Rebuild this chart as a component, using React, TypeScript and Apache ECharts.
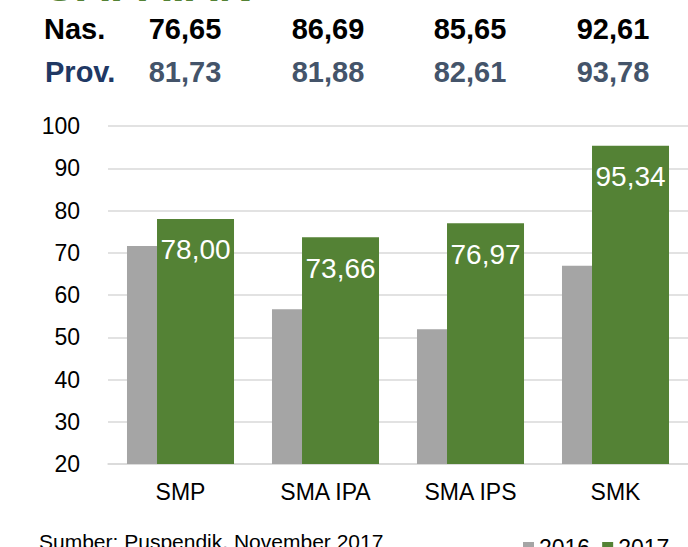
import React, { useEffect, useRef } from "react";
import * as echarts from "echarts";

const categories = ["SMP", "SMA IPA", "SMA IPS", "SMK"];
const values2016 = [71.6, 56.6, 51.9, 66.9];
const values2017 = [78.0, 73.66, 76.97, 95.34];
const nasValues = ["76,65", "86,69", "85,65", "92,61"];
const provValues = ["81,73", "81,88", "82,61", "93,78"];
const yTicks = [20, 30, 40, 50, 60, 70, 80, 90, 100];
const seriesNames = ["2016", "2017"];
const titleText = "CAPAIAN";
const sourceText = "Sumber: Puspendik, November 2017";

const FONT = "'Liberation Sans', Arial, Helvetica, sans-serif";
const tableX = [185, 328, 470, 613];

export default function App() {
  const ref = useRef<HTMLDivElement>(null);
  useEffect(() => {
    if (!ref.current) return;
    const chart = echarts.init(ref.current, undefined, { renderer: "svg" });
    const fmt = (v: number) => v.toFixed(2).replace(".", ",");
    const graphics: any[] = [
      {
        type: "text",
        x: 42,
        y: -16,
        style: {
          text: titleText,
          fill: "#548235",
          font: `bold 47px ${FONT}`,
          verticalAlign: "middle",
        },
      },
      {
        type: "text",
        x: 44,
        y: 29,
        style: { text: "Nas.", fill: "#000000", font: `bold 29px ${FONT}`, verticalAlign: "middle" },
      },
      {
        type: "text",
        x: 45,
        y: 72,
        style: { text: "Prov.", fill: "#203864", font: `bold 29px ${FONT}`, verticalAlign: "middle" },
      },
      {
        type: "text",
        x: 39,
        y: 541,
        style: { text: sourceText, fill: "#000000", font: `21px ${FONT}`, verticalAlign: "middle" },
      },
    ];
    nasValues.forEach((v, i) => {
      graphics.push({
        type: "text",
        x: tableX[i],
        y: 29,
        style: { text: v, fill: "#000000", font: `bold 29px ${FONT}`, align: "center", verticalAlign: "middle" },
      });
    });
    provValues.forEach((v, i) => {
      graphics.push({
        type: "text",
        x: tableX[i],
        y: 72,
        style: { text: v, fill: "#44546A", font: `bold 29px ${FONT}`, align: "center", verticalAlign: "middle" },
      });
    });

    chart.setOption({
      animation: false,
      textStyle: { fontFamily: FONT },
      grid: { left: 108, right: -2, top: 126, bottom: 83, containLabel: false },
      legend: {
        data: seriesNames,
        left: 518,
        top: 531,
        itemWidth: 11,
        itemHeight: 11,
        itemGap: 12,
        icon: "rect",
        textStyle: { fontSize: 23, color: "#000000", fontFamily: FONT },
      },
      xAxis: {
        type: "category",
        data: categories,
        axisLine: { show: true, lineStyle: { color: "#D9D9D9", width: 1.5 } },
        axisTick: { show: false },
        axisLabel: { fontSize: 23, color: "#000000", margin: 16, fontFamily: FONT },
      },
      yAxis: {
        type: "value",
        min: yTicks[0],
        max: yTicks[yTicks.length - 1],
        interval: 10,
        axisLine: { show: false },
        axisTick: { show: false },
        axisLabel: { fontSize: 23, color: "#000000", margin: 28, fontFamily: FONT },
        splitLine: { lineStyle: { color: "#D9D9D9", width: 1.5 } },
      },
      series: [
        {
          name: seriesNames[0],
          type: "bar",
          data: values2016,
          barWidth: 77,
          barGap: "-61%",
          itemStyle: { color: "#A5A5A5" },
        },
        {
          name: seriesNames[1],
          type: "bar",
          data: values2017,
          barWidth: 77,
          itemStyle: { color: "#548235" },
          label: {
            show: true,
            position: "insideTop",
            distance: 17,
            color: "#FFFFFF",
            fontSize: 28,
            fontFamily: FONT,
            formatter: (p: any) => fmt(p.value),
          },
        },
      ],
      graphic: graphics,
    });
    return () => chart.dispose();
  }, []);
  return (
    <div
      ref={ref}
      style={{ position: "fixed", left: 0, top: 0, width: 688, height: 547, background: "#ffffff" }}
    />
  );
}
